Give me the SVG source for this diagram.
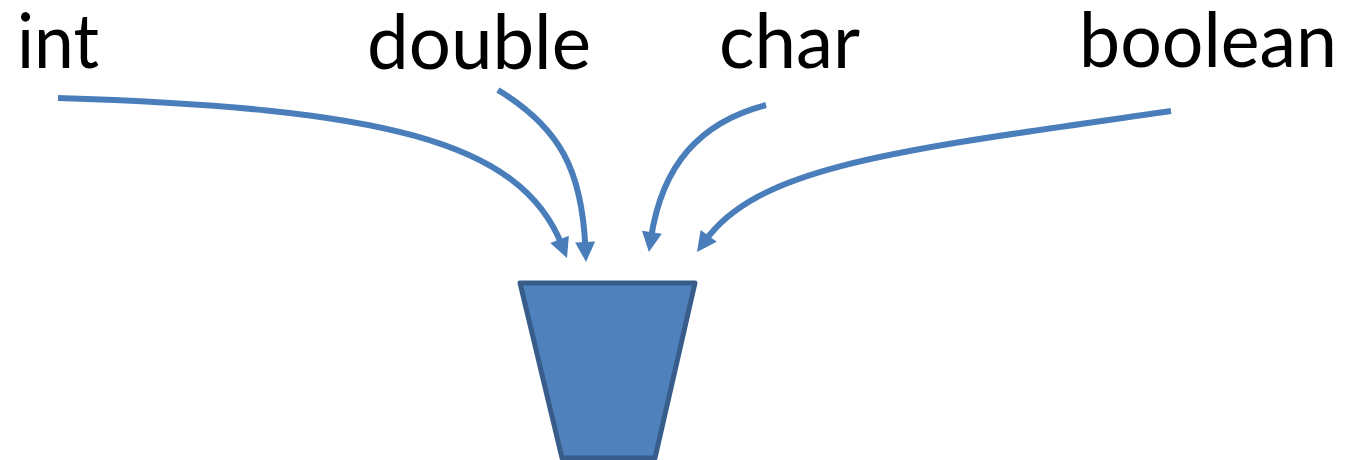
<svg xmlns="http://www.w3.org/2000/svg" width="1349" height="460" viewBox="0 0 1349 460">
<style>
.lbl{font-family:Lato,"Open Sans","Liberation Sans",sans-serif;font-size:76px;fill:#000}
.conn{fill:none;stroke:#4a7ebb;stroke-width:6;marker-end:url(#ah)}
</style>
<defs>
<marker id="ah" markerUnits="userSpaceOnUse" markerWidth="22" markerHeight="22" refX="6" refY="10" orient="auto" overflow="visible">
<path d="M0,0 L20,10 L0,20 Z" fill="#4a7ebb"/>
</marker>
</defs>
<rect width="1349" height="460" fill="#fff"/>
<g id="int"><text class="lbl" x="17" y="68" textLength="82" lengthAdjust="spacingAndGlyphs">int</text></g>
<g id="double"><text class="lbl" x="367" y="69" textLength="224" lengthAdjust="spacingAndGlyphs">double</text></g>
<g id="char"><text class="lbl" x="719" y="68" textLength="141" lengthAdjust="spacingAndGlyphs">char</text></g>
<g id="boolean"><text class="lbl" x="1079" y="67" textLength="258" lengthAdjust="spacingAndGlyphs">boolean</text></g>
<g id="bucket"><path d="M520,283 L695,283 L655,458 L562,458 Z" fill="#4f81bd" stroke="#385d8a" stroke-width="5" stroke-linejoin="round"/></g>
<g id="connectors">
<path class="conn" d="M58,98 C380,108 520,140 561.8,245"/>
<path class="conn" d="M498,90 C560,128 582,170 585.4,248"/>
<path class="conn" d="M766,105 C700,122 662,165 651,238.2"/>
<path class="conn" d="M1171,111 C900,150 760,165 705.2,240.7"/>
</g>
</svg>
